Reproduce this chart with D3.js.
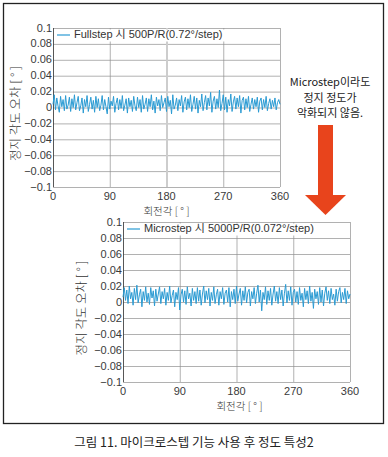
<!DOCTYPE html>
<html>
<head>
<meta charset="utf-8">
<script src="https://cdn.jsdelivr.net/npm/d3@7"></script>
<style>
  body { margin: 0; background: #fff; }
  svg { display: block; }
</style>
</head>
<body>
<script>
const w = 388;
const h = 457;

// angle step of the samples (deg)
const angles = d3.range(0, 361, 2);

// Fullstep 500P/R (deg error, every 2 deg)
const fullstepErr = [
  0.004, 0.016, -0.003, 0.012, 0.002, -0.006, 0.014, 0.001, 0.010, -0.004, 0.015, -0.002, 0.003, 0.013, -0.005, 0.011, 0.000, 0.016, -0.003, 0.006,
  0.014, -0.004, 0.002, 0.012, -0.007, 0.010, 0.001, 0.015, -0.005, 0.004, 0.013, -0.002, 0.009, -0.006, 0.014, 0.000, 0.011, -0.004, 0.003, 0.015,
  -0.003, 0.010, 0.001, -0.008, 0.013, -0.002, 0.008, 0.002, 0.014, -0.006, 0.005, 0.012, -0.003, 0.010, -0.001, 0.015, -0.004, 0.003, 0.011, -0.007,
  0.012, 0.001, 0.009, -0.005, 0.014, 0.002, -0.004, 0.013, 0.000, 0.010, -0.006, 0.015, -0.002, 0.004, 0.012, -0.005, 0.011, 0.001, 0.016, -0.003,
  0.008, -0.007, 0.013, 0.002, 0.010, -0.004, 0.015, 0.000, 0.006, 0.012, -0.005, 0.014, 0.001, 0.009, -0.008, 0.016, -0.002, 0.003, 0.012, -0.004,
  0.010, 0.002, 0.015, -0.006, 0.007, 0.013, -0.003, 0.011, 0.000, 0.016, -0.005, 0.004, 0.014, -0.002, 0.012, -0.007, 0.009, 0.001, 0.017, -0.004,
  0.006, 0.015, -0.003, 0.012, 0.002, 0.019, -0.006, 0.008, 0.014, -0.002, 0.011, 0.000, 0.022, -0.004, 0.005, 0.016, -0.003, 0.013, -0.006, 0.010,
  0.002, 0.017, -0.005, 0.007, 0.014, -0.002, 0.012, 0.001, 0.015, -0.007, 0.009, 0.013, -0.003, 0.011, 0.000, 0.014, -0.005, 0.004, 0.012, -0.002,
  0.010, 0.001, 0.013, -0.006, 0.008, 0.012, -0.003, 0.010, 0.000, 0.014, -0.004, 0.005, 0.011, -0.002, 0.009, 0.001, 0.012, -0.003, 0.006, 0.010,
  0.004
];

// Microstep 5000P/R
const microstepErr = [
  0.006, 0.018, 0.002, 0.015, -0.002, 0.020, 0.004, 0.012, -0.004, 0.017, 0.003, 0.021, -0.001, 0.009, 0.016, -0.006, 0.013, 0.002, 0.019, 0.000,
  0.011, -0.003, 0.018, 0.005, 0.014, -0.005, 0.016, 0.001, 0.010, 0.019, -0.002, 0.013, 0.004, 0.017, -0.004, 0.012, 0.002, 0.020, -0.001, 0.008,
  0.015, -0.006, 0.012, 0.003, 0.018, -0.010, 0.009, 0.016, 0.000, 0.014, -0.003, 0.019, 0.004, 0.011, -0.005, 0.017, 0.002, 0.013, -0.002, 0.018,
  0.001, 0.015, -0.004, 0.010, 0.020, -0.001, 0.014, 0.003, 0.017, -0.005, 0.012, 0.002, 0.019, -0.002, 0.009, 0.016, -0.004, 0.013, 0.004, 0.018,
  -0.003, 0.011, 0.015, 0.000, 0.018, -0.006, 0.013, 0.003, 0.016, -0.002, 0.020, 0.001, 0.010, 0.017, -0.004, 0.014, 0.002, 0.019, -0.001, 0.012,
  0.016, -0.005, 0.013, 0.004, 0.018, -0.002, 0.011, 0.021, 0.000, 0.015, -0.011, 0.012, 0.003, 0.019, -0.003, 0.014, 0.002, 0.017, -0.004, 0.010,
  0.020, 0.001, 0.013, -0.002, 0.018, 0.003, 0.015, -0.005, 0.011, 0.022, -0.001, 0.014, 0.002, 0.019, -0.004, 0.012, 0.016, 0.000, 0.013, -0.003,
  0.018, 0.002, 0.011, -0.006, 0.017, 0.003, 0.014, -0.002, 0.020, 0.001, 0.012, -0.008, 0.016, 0.004, 0.013, -0.003, 0.018, 0.000, 0.015, -0.005,
  0.011, 0.019, 0.002, 0.014, -0.002, 0.017, 0.003, 0.010, -0.004, 0.016, 0.001, 0.013, 0.018, -0.001, 0.012, 0.003, 0.017, -0.002, 0.014, 0.004,
  0.010
];

const xTicks = [0, 90, 180, 270, 360];
const yTicks = [0.1, 0.08, 0.06, 0.04, 0.02, 0, -0.02, -0.04, -0.06, -0.08, -0.1];
const yTickLabels = ["0.1", "0.08", "0.06", "0.04", "0.02", "0", "\u22120.02", "\u22120.04", "\u22120.06", "\u22120.08", "\u22120.1"];

const lineColor = "#2b9bd3";
const arrowColor = "#e8441c";
const numFont = "'Liberation Sans Narrow', 'Liberation Sans', 'Noto Sans CJK KR', sans-serif";
const korFont = "'Noto Sans CJK KR', sans-serif";

const svg = d3.select("body")
  .append("svg")
  .attr("width", w)
  .attr("height", h);

// outer frame
svg.append("rect")
  .attr("x", 3.5)
  .attr("y", 3.5)
  .attr("width", 380)
  .attr("height", 420)
  .attr("fill", "none")
  .attr("stroke", "#222")
  .attr("stroke-width", 1.3);

function drawChart(cfg) {
  const xScale = d3.scaleLinear().domain([0, 360]).range([cfg.left, cfg.right]);
  const yScale = d3.scaleLinear().domain([-0.1, 0.1]).range([cfg.bottom, cfg.top]);

  const g = svg.append("g");

  // horizontal grid
  g.selectAll(".hgrid")
    .data(yTicks)
    .enter()
    .append("line")
    .attr("x1", cfg.left)
    .attr("x2", cfg.right)
    .attr("y1", d => yScale(d) + 0.5)
    .attr("y2", d => yScale(d) + 0.5)
    .attr("stroke", "#8f8f8f")
    .attr("stroke-width", 0.7);

  // vertical grid
  g.selectAll(".vgrid")
    .data(xTicks.slice(1))
    .enter()
    .append("line")
    .attr("x1", d => xScale(d) + 0.5)
    .attr("x2", d => xScale(d) + 0.5)
    .attr("y1", cfg.top)
    .attr("y2", cfg.bottom)
    .attr("stroke", d => (cfg.thickX === d ? "#cdcdcd" : "#8f8f8f"))
    .attr("stroke-width", d => (cfg.thickX === d ? 2 : 0.7));

  // axis line
  g.append("line")
    .attr("x1", cfg.left + 0.5).attr("x2", cfg.left + 0.5)
    .attr("y1", cfg.top).attr("y2", cfg.bottom)
    .attr("stroke", "#444").attr("stroke-width", 0.9);

  // y tick labels
  g.selectAll(".ylab")
    .data(yTicks)
    .enter()
    .append("text")
    .attr("x", cfg.left - 1)
    .attr("y", d => yScale(d) + 3.5)
    .attr("text-anchor", "end")
    .attr("font-family", numFont)
    .attr("font-size", 11)
    .attr("fill", "#3a3a3a")
    .text((d, i) => yTickLabels[i]);

  // x tick labels
  g.selectAll(".xlab")
    .data(xTicks)
    .enter()
    .append("text")
    .attr("x", d => xScale(d))
    .attr("y", cfg.bottom + 13)
    .attr("text-anchor", "middle")
    .attr("font-family", numFont)
    .attr("font-size", 11)
    .attr("fill", "#3a3a3a")
    .text(d => d);

  // signal
  const line = d3.line()
    .x(d => xScale(d[0]))
    .y(d => yScale(d[1]));

  g.append("path")
    .datum(angles.map((a, i) => [a, cfg.values[i]]))
    .attr("d", line)
    .attr("fill", "none")
    .attr("stroke", lineColor)
    .attr("stroke-width", 1);

  // legend
  const lg = g.append("g");
  const lt = lg.append("text")
    .attr("x", cfg.left + 21)
    .attr("y", cfg.top + 10)
    .attr("font-family", numFont)
    .attr("font-size", 11)
    .attr("fill", "#333")
    .text(cfg.legend);
  const bb = lt.node().getBBox();
  lg.insert("rect", "text")
    .attr("x", cfg.left + 2)
    .attr("y", cfg.top + 1.5)
    .attr("width", bb.x + bb.width - cfg.left + 2)
    .attr("height", 12)
    .attr("fill", "#fff");
  lg.append("line")
    .attr("x1", cfg.left + 4)
    .attr("x2", cfg.left + 17)
    .attr("y1", cfg.top + 7)
    .attr("y2", cfg.top + 7)
    .attr("stroke", lineColor)
    .attr("stroke-width", 1.2);

  // axis titles
  g.append("text")
    .attr("x", (cfg.left + cfg.right) / 2 + cfg.xTitleShift)
    .attr("y", cfg.bottom + 28)
    .attr("text-anchor", "middle")
    .attr("font-family", korFont)
    .attr("font-size", 10.5)
    .attr("font-weight", 300)
    .attr("fill", "#333")
    .text("회전각 [ ° ]");

  g.append("text")
    .attr("transform", `translate(${cfg.yTitleX}, ${(cfg.top + cfg.bottom) / 2 + 6}) rotate(-90)`)
    .attr("text-anchor", "middle")
    .attr("font-family", korFont)
    .attr("font-size", 12.5)
    .attr("font-weight", 300)
    .attr("fill", "#333")
    .text("정지 각도 오차 [ ° ]");
}

drawChart({
  left: 53, right: 280, top: 28, bottom: 187,
  values: fullstepErr,
  legend: "Fullstep 시 500P/R(0.72°/step)",
  thickX: 180,
  yTitleX: 20,
  xTitleShift: 0
});

drawChart({
  left: 123, right: 350, top: 222, bottom: 382,
  values: microstepErr,
  legend: "Microstep 시 5000P/R(0.072°/step)",
  thickX: null,
  yTitleX: 86,
  xTitleShift: 3
});

// annotation
const note = ["Microstep이라도", "정지 정도가", "악화되지 않음."];
svg.selectAll(".note")
  .data(note)
  .enter()
  .append("text")
  .attr("x", 330)
  .attr("y", (d, i) => 86 + i * 15.5)
  .attr("text-anchor", "middle")
  .attr("font-family", korFont)
  .attr("font-size", 11)
  .attr("fill", "#222")
  .text(d => d);

// arrow
svg.append("rect")
  .attr("x", 318)
  .attr("y", 125)
  .attr("width", 15)
  .attr("height", 71)
  .attr("fill", arrowColor);
svg.append("path")
  .attr("d", "M305,195 L346,195 L325.5,215 Z")
  .attr("fill", arrowColor);

// caption
svg.append("text")
  .attr("x", 194)
  .attr("y", 447)
  .attr("text-anchor", "middle")
  .attr("font-family", korFont)
  .attr("font-size", 12.5)
  .attr("font-weight", 400)
  .attr("fill", "#222")
  .text("그림 11. 마이크로스텝 기능 사용 후 정도 특성2");
</script>
</body>
</html>
